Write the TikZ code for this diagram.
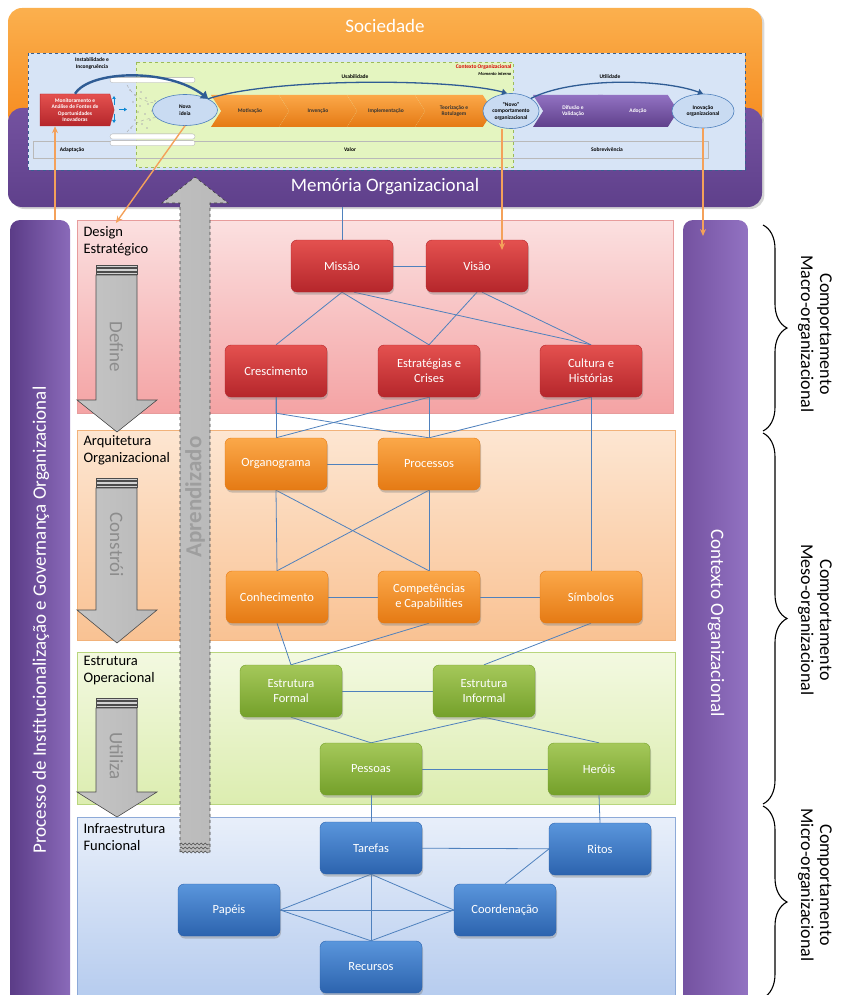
\documentclass[tikz,border=0pt]{standalone}
\usepackage{fontspec}
\setmainfont{Carlito}
\usetikzlibrary{arrows.meta,shapes.geometric,shapes.symbols,shadows,decorations.pathreplacing,decorations.pathmorphing}

\pgfdeclarelayer{bg}
\pgfdeclarelayer{links}
\pgfsetlayers{bg,links,main}

% bands and columns
\definecolor{socA}{HTML}{FBB04E}
\definecolor{socB}{HTML}{F68B1F}
\definecolor{memA}{HTML}{7452A0}
\definecolor{memB}{HTML}{5F408B}
\definecolor{colA}{HTML}{5B3C87}
\definecolor{colB}{HTML}{9272C2}
% innovation panel
\definecolor{panel}{HTML}{D7E4F6}
\definecolor{panelline}{HTML}{3A5F8F}
\definecolor{valor}{HTML}{E4F5C0}
\definecolor{valorline}{HTML}{9CBB58}
\definecolor{bubblefill}{HTML}{C9DBF2}
\definecolor{arcblue}{HTML}{2F5C94}
\definecolor{feed}{HTML}{F4A15A}
\definecolor{linkblue}{HTML}{4F81BD}
% layers
\definecolor{pinkA}{HTML}{FBE0E0}
\definecolor{pinkB}{HTML}{F4A3A4}
\definecolor{pinkline}{HTML}{E79C9C}
\definecolor{orA}{HTML}{FDE6D2}
\definecolor{orB}{HTML}{F9C293}
\definecolor{orline}{HTML}{F2B27A}
\definecolor{grA}{HTML}{F3F9E1}
\definecolor{grB}{HTML}{DCEDB0}
\definecolor{grline}{HTML}{B9D67E}
\definecolor{blA}{HTML}{E8EFFA}
\definecolor{blB}{HTML}{B5CBEE}
\definecolor{blline}{HTML}{8DAAD8}
% blocks
\definecolor{redA}{HTML}{E4514F}
\definecolor{redB}{HTML}{B5262B}
\definecolor{ornA}{HTML}{FBA849}
\definecolor{ornB}{HTML}{E57A14}
\definecolor{grnA}{HTML}{A5C85A}
\definecolor{grnB}{HTML}{74A02A}
\definecolor{bluA}{HTML}{5A96DC}
\definecolor{bluB}{HTML}{2C63AE}

\tikzset{
  every node/.style={font=\fontsize{12.5}{15}\selectfont},
  line cap=round,line join=round,
  block/.style={rounded corners=6pt,minimum width=102pt,minimum height=52pt,inner sep=2pt,
    align=center,text=white,drop shadow={opacity=0.4,shadow xshift=1pt,shadow yshift=-2.5pt}},
  redblock/.style={block,top color=redA,bottom color=redB,draw=redB},
  orangeblock/.style={block,top color=ornA,bottom color=ornB,draw=ornB},
  greenblock/.style={block,top color=grnA,bottom color=grnB,draw=grnB},
  blueblock/.style={block,top color=bluA,bottom color=bluB,draw=bluB},
  link/.style={draw=linkblue,line width=0.8pt},
  feedback/.style={draw=feed,line width=1.4pt,-{Stealth[length=7pt,width=6pt]}},
  layerlabel/.style={anchor=north west,align=left,font=\fontsize{14.5}{17}\selectfont},
  minitext/.style={font=\fontsize{5.5}{6.5}\selectfont\bfseries,align=center,inner sep=0.5pt},
  chevron/.style={signal,signal from=west,signal to=east,signal pointer angle=115,
    minimum width=78pt,minimum height=32pt,inner sep=0pt,minitext},
  bubble/.style={ellipse,draw=linkblue,line width=0.6pt,fill=bubblefill,minitext,inner sep=0pt},
  column/.style={rounded corners=10pt},
  bracelabel/.style={rotate=-90,align=center,font=\fontsize{18}{19}\selectfont},
  downarrow/.style={left color=gray!45,middle color=gray!8,right color=gray!55,draw=black!70,line width=0.6pt},
  bracket/.style={line width=1.1pt,decorate,decoration={brace,amplitude=24pt}},
}

\begin{document}
\begin{tikzpicture}[x=1pt,y=-1pt]
  \useasboundingbox (0,0) rectangle (845,995);

  \begin{pgfonlayer}{bg}
    % society and memory bands
    \node[rounded corners=14pt,top color=socA,bottom color=socB,minimum width=754pt,minimum height=120pt,
      drop shadow={opacity=0.3,shadow yshift=-2pt}] (sociedade) at (385,68) {};
    \node[rounded corners=14pt,top color=memA,bottom color=memB,minimum width=754pt,minimum height=99pt,
      drop shadow={opacity=0.35,shadow yshift=-2pt}] (memoria) at (385,157.5) {};

    % innovation panel
    \path[fill=panel,draw=panelline,dashed,line width=0.5pt] (28,53) rectangle (745,170);
    \path[fill=valor,draw=valorline,dashed,line width=0.5pt] (136,62) rectangle (513,167);
    \draw[gray!55,line width=0.3pt] (33,141) rectangle (708,158);

    % side columns
    \node[column,left color=colA,right color=colB!85!colA,minimum width=60pt,minimum height=795pt] (colproc) at (40,617.5) {};
    \node[column,left color=memA,right color=colB,minimum width=65pt,minimum height=795pt] (colctx) at (715.5,617.5) {};

    % layers
    \path[top color=pinkA,bottom color=pinkB,draw=pinkline] (77,220) rectangle (673,413);
    \path[top color=orA,bottom color=orB,draw=orline] (77,430) rectangle (675,640);
    \path[top color=grA,bottom color=grB,draw=grline] (77,652) rectangle (675,804);
    \path[top color=blA,bottom color=blB,draw=blline] (77,817) rectangle (675,1002);

    % learning arrow
    \path[left color=gray!50,middle color=gray!18,right color=gray!55,draw=black!75,dashed,line width=0.6pt]
      (180,852) -- (180,203) -- (162,203) -- (195,177) -- (228,203) -- (210,203) -- (210,852);
    \foreach \wy in {844,848,852}
      \draw[black!70,line width=0.5pt,decorate,decoration={snake,amplitude=1pt,segment length=4pt}] (180,\wy) -- (210,\wy);

    % layer verbs
    \foreach \ys/\yh/\yt/\yl/\act in {265/400/432/347/Define,478/610/643/545/Constrói,698/792/817/756/Utiliza}{
      \path[downarrow] (96,\ys+10) -- (96,\yh) -- (77,\yh) -- (117,\yt) -- (157,\yh) -- (137,\yh) -- (137,\ys+10) -- cycle;
      \foreach \k in {0,3.5,7}
        \draw[black!70,fill=gray!35,line width=0.5pt] (96,\ys+\k) rectangle (137,\ys+\k+2.5);
      \node[rotate=-90,text=black!45,font=\fontsize{19}{21}\selectfont] at (116.5,\yl) {\act};
    }
  \end{pgfonlayer}

  \node[rotate=90,text=black!38,font=\fontsize{23}{25}\selectfont\bfseries] (aprend) at (195,497) {Aprendizado};

  % band and column titles
  \node[text=white,font=\fontsize{19}{21}\selectfont] (soctxt) at (385,26) {Sociedade};
  \node[text=white,font=\fontsize{19}{21}\selectfont] (memtxt) at (385,187) {Memória Organizacional};
  \node[rotate=90,text=white,font=\fontsize{19}{21}\selectfont] (proctxt) at (41,620)
    {Processo de Institucionalização e Governança Organizacional};
  \node[rotate=-90,text=white,font=\fontsize{19}{21}\selectfont] (ctxtxt) at (716,623) {Contexto Organizacional};

  % innovation panel contents
  \node[minitext] (instab) at (92,63.5) {Instabilidade e\\Incongruência};
  \node[minitext] (usab) at (355,77) {Usabilidade};
  \node[minitext] (util) at (610,77) {Utilidade};
  \node[minitext] (adapt-l) at (72,150) {Adaptação};
  \node[minitext] (valor-l) at (350,150) {Valor};
  \node[minitext] (sobrev-l) at (607,150) {Sobrevivência};
  \node[minitext,text=red!85!black,anchor=east] (ctxorg) at (512,67) {Contexto Organizacional};
  \node[font=\fontsize{4.5}{5}\selectfont\itshape\bfseries,anchor=east,inner sep=0.5pt] (momento) at (512,74) {Momento interno};

  \node[signal,signal to=east,signal pointer angle=150,top color=redA,bottom color=redB,draw=redB,
    minimum width=74pt,minimum height=32pt,inner sep=0pt,text=white,minitext] (monitor) at (75,110)
    {Monitoramento e\\Análise de Fontes de\\Oportunidades\\Inovadoras};

  % idea funnel
  \foreach \py in {80,136.5,143}
    \draw[gray!70,fill=white,line width=0.3pt,rounded corners=2.5pt] (110,\py-2.6) rectangle (195,\py+2.6);
  \draw[gray!70,dashed,line width=0.4pt] (127,85) .. controls (135,100) and (150,104) .. (168,104);
  \draw[gray!70,dashed,line width=0.4pt] (127,132) .. controls (135,120) and (150,117) .. (168,117);
  \foreach \dx/\dy in {130/90,135/95,141/92,146/98,133/102,140/106,148/104,155/101,138/112,
      145/114,152/111,135/120,142/124,150/120,158/118,131/128,147/128,160/109}
    \fill[gray!60] (\dx,\dy) circle (0.8);
  \draw[cyan!70!blue,line width=1pt,-{Triangle[length=3pt,width=3.5pt]}] (114,105) -- (114,96);
  \draw[cyan!70!blue,line width=1pt,-{Triangle[length=3pt,width=3.5pt]}] (114,114) -- (114,123);
  \draw[cyan!70!blue,line width=1pt,-{Triangle[length=3pt,width=3.5pt]}] (119,109.5) -- (127,109.5);

  \node[bubble,minimum width=65pt,minimum height=31pt] (novaideia) at (185,110) {Nova\\ideia};

  \foreach \cx/\name/\txt in {250/motiv/Motivação,318/invenc/Invenção,386/implem/Implementação,454/teoriz/{Teorização e\\Rotulagem}}
    \node[chevron,top color=ornA,bottom color=ornB,text=black!80] (\name) at (\cx,111) {\txt};
  \foreach \cx/\name/\txt in {573/difus/{Difusão e\\Validação},638/adoc/Adoção}
    \node[chevron,top color=colB,bottom color=memB,text=white,minimum width=80pt] (\name) at (\cx,111) {\txt};

  \node[bubble,minimum width=56pt,minimum height=35pt] (novocomp) at (511,111) {“Novo”\\comportamento\\organizacional};
  \node[bubble,minimum width=62pt,minimum height=34pt] (inovacao) at (703,111) {Inovação\\organizacional};

  \draw[arcblue,line width=2.4pt,-{Triangle[length=7pt,width=9pt]}]
    (monitor.north) .. controls (90,70) and (168,68) .. (novaideia.north east);
  \draw[arcblue,line width=1.3pt,-{Triangle[length=5pt,width=6pt]}]
    (novaideia.north east) .. controls (270,78) and (450,78) .. ([xshift=-4pt]novocomp.north);
  \draw[arcblue,line width=1.3pt,-{Triangle[length=5pt,width=6pt]}]
    (novocomp.north east) .. controls (570,78) and (660,78) .. (inovacao.north);

  % layer titles
  \node[layerlabel] (lbldesign) at (80,223) {Design\\Estratégico};
  \node[layerlabel] (lblarq) at (80,432) {Arquitetura\\Organizacional};
  \node[layerlabel] (lblop) at (80,653) {Estrutura\\Operacional};
  \node[layerlabel] (lblinfra) at (80,820) {Infraestrutura\\Funcional};

  % strategic design
  \node[redblock] (missao) at (342,266) {Missão};
  \node[redblock] (visao) at (477,266) {Visão};
  \node[redblock] (crescimento) at (276,371) {Crescimento};
  \node[redblock] (estrategias) at (429,371) {Estratégias e\\Crises};
  \node[redblock] (cultura) at (591,371) {Cultura e\\Histórias};

  % organizational architecture
  \node[orangeblock] (organograma) at (276,464) {Organograma};
  \node[orangeblock] (processos) at (429,464) {Processos};
  \node[orangeblock] (conhecimento) at (277,597) {Conhecimento};
  \node[orangeblock] (competencias) at (429,597) {Competências\\e Capabilities};
  \node[orangeblock] (simbolos) at (591,597) {Símbolos};

  % operational structure
  \node[greenblock] (formal) at (291,691) {Estrutura\\Formal};
  \node[greenblock] (informal) at (484,691) {Estrutura\\Informal};
  \node[greenblock] (pessoas) at (371,769) {Pessoas};
  \node[greenblock] (herois) at (599,769) {Heróis};

  % functional infrastructure
  \node[blueblock] (tarefas) at (371,848) {Tarefas};
  \node[blueblock] (ritos) at (600,849) {Ritos};
  \node[blueblock] (papeis) at (229,910) {Papéis};
  \node[blueblock] (coordenacao) at (505,910) {Coordenação};
  \node[blueblock] (recursos) at (371,967) {Recursos};

  \begin{pgfonlayer}{links}
    \draw[link] (memoria.south -| missao.north) -- (missao.north);
    \draw[link] (missao) -- (visao);
    \draw[link] (missao.south) -- (crescimento.north);
    \draw[link] (missao.south) -- (estrategias.north);
    \draw[link] ([xshift=12pt]missao.south) -- (cultura.north);
    \draw[link] (visao.south) -- (estrategias.north);
    \draw[link] ([xshift=5pt]visao.south) -- (cultura.north);
    \draw[link] (crescimento.south) -- (organograma.north);
    \draw[link] (crescimento.south) -- ([yshift=-16pt]crescimento.south) -- (processos.north);
    \draw[link] (estrategias.south) -- (organograma.north);
    \draw[link] (estrategias.south) -- (processos.north);
    \draw[link] (cultura.south) -- (processos.north);
    \draw[link] (cultura.south) -- (simbolos.north);
    \draw[link] (organograma) -- (processos);
    \draw[link] (organograma.south) -- (conhecimento.north);
    \draw[link] (organograma.south) -- (competencias.north);
    \draw[link] (processos.south) -- (conhecimento.north);
    \draw[link] (processos.south) -- (competencias.north);
    \draw[link] (conhecimento) -- (competencias);
    \draw[link] (competencias) -- (simbolos);
    \draw[link] (conhecimento.south) -- (formal.north);
    \draw[link] (competencias.south) -- (formal.north);
    \draw[link] (simbolos.south) -- (informal.north);
    \draw[link] (formal) -- (informal);
    \draw[link] (formal.south) -- (pessoas.north);
    \draw[link] (informal.south) -- (pessoas.north);
    \draw[link] (informal.south) -- (herois.north);
    \draw[link] (pessoas) -- (herois);
    \draw[link] (pessoas.south) -- (tarefas.north);
    \draw[link] (herois.south) -- (ritos.north);
    \draw[link] (tarefas) -- (ritos);
    \draw[link] (ritos.west) -- (coordenacao.north);
    \draw[link] (tarefas.south) -- (papeis.east);
    \draw[link] (tarefas.south) -- (coordenacao.west);
    \draw[link] (tarefas.south) -- (recursos.north);
    \draw[link] (papeis.east) -- (coordenacao.west);
    \draw[link] (papeis.east) -- (recursos.north);
    \draw[link] (coordenacao.west) -- (recursos.north);
  \end{pgfonlayer}

  % feedback into the layers
  \coordinate (adapt) at (55,220);
  \coordinate (visaoentry) at (502,250);
  \coordinate (ctxentry) at (703,236);
  \draw[feedback] (adapt) -- (adapt |- monitor.south);
  \draw[feedback] (novaideia.south) -- (lbldesign.north);
  \draw[feedback] (novocomp.south -| visaoentry) -- (visaoentry);
  \draw[feedback] (inovacao.south) -- (inovacao.south |- ctxentry);

  % behaviour levels
  \draw[bracket] (763,225) -- (763,431);
  \draw[bracket] (763,433) -- (763,804);
  \draw[bracket] (763,806) -- (763,998);
  \node[bracelabel] (macro) at (815,334) {Comportamento\\Macro-organizacional};
  \node[bracelabel] (meso) at (815,620) {Comportamento\\Meso-organizacional};
  \node[bracelabel] (micro) at (815,885) {Comportamento\\Micro-organizacional};
\end{tikzpicture}
\end{document}
